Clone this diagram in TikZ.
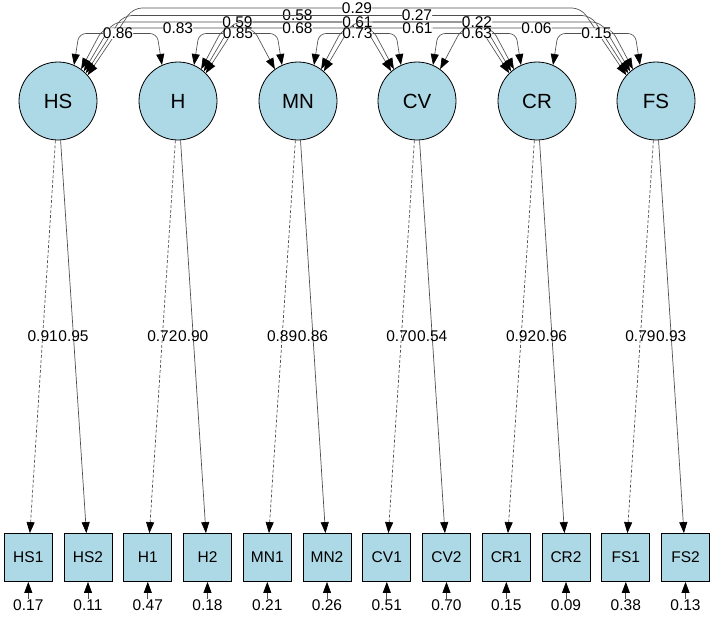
\documentclass[tikz,border=0pt]{standalone}
\usepackage{fontspec}
\setmainfont{Liberation Sans}
\usetikzlibrary{arrows.meta}
\definecolor{lb}{HTML}{ADD8E6}
\definecolor{edgec}{HTML}{505050}
\begin{document}
\begin{tikzpicture}[x=1pt,y=-1pt,
  >={Triangle[length=11pt,width=8pt,color=black]},
  lat/.style={circle,draw=black,line width=0.8pt,fill=lb,minimum size=78pt,inner sep=0pt,font=\fontsize{20.5}{24}\selectfont},
  man/.style={rectangle,draw=black,line width=0.8pt,fill=lb,minimum size=48pt,inner sep=0pt,font=\fontsize{15.5}{18}\selectfont},
  num/.style={font=\fontsize{15.5}{18}\selectfont,inner sep=0pt,text height=10.5pt,text depth=0pt},
  cl/.style={num,fill=white},
  cov/.style={draw=edgec,line width=0.65pt,<->,rounded corners=9pt},
  load/.style={draw=edgec,line width=0.7pt,->},
  fixed/.style={load,dash pattern=on 3pt off 2pt},
  res/.style={draw=edgec,line width=0.7pt,->}
]
\useasboundingbox (0,0) rectangle (714,616);

% latent variables
\node[lat] (HS) at (58,101) {HS};
\node[lat] (H)  at (178,101) {H};
\node[lat] (MN) at (298,101) {MN};
\node[lat] (CV) at (417,101) {CV};
\node[lat] (CR) at (537,101) {CR};
\node[lat] (FS) at (656,101) {FS};

% indicators
\node[man] (HS1) at (28.3,557.5) {HS1};
\node[man] (HS2) at (88,557.5) {HS2};
\node[man] (H1)  at (147.8,557.5) {H1};
\node[man] (H2)  at (207.5,557.5) {H2};
\node[man] (MN1) at (267.3,557.5) {MN1};
\node[man] (MN2) at (327,557.5) {MN2};
\node[man] (CV1) at (386.8,557.5) {CV1};
\node[man] (CV2) at (446.5,557.5) {CV2};
\node[man] (CR1) at (506.3,557.5) {CR1};
\node[man] (CR2) at (566,557.5) {CR2};
\node[man] (FS1) at (625.8,557.5) {FS1};
\node[man] (FS2) at (685.5,557.5) {FS2};

% residual variances
\node[num,inner sep=1pt] (e1)  at (28.3,605) {0.17};
\node[num,inner sep=1pt] (e2)  at (88,605) {0.11};
\node[num,inner sep=1pt] (e3)  at (147.8,605) {0.47};
\node[num,inner sep=1pt] (e4)  at (207.5,605) {0.18};
\node[num,inner sep=1pt] (e5)  at (267.3,605) {0.21};
\node[num,inner sep=1pt] (e6)  at (327,605) {0.26};
\node[num,inner sep=1pt] (e7)  at (386.8,605) {0.51};
\node[num,inner sep=1pt] (e8)  at (446.5,605) {0.70};
\node[num,inner sep=1pt] (e9)  at (506.3,605) {0.15};
\node[num,inner sep=1pt] (e10) at (566,605) {0.09};
\node[num,inner sep=1pt] (e11) at (625.8,605) {0.38};
\node[num,inner sep=1pt] (e12) at (685.5,605) {0.13};
\draw[res] (e1) -- (HS1);
\draw[res] (e2) -- (HS2);
\draw[res] (e3) -- (H1);
\draw[res] (e4) -- (H2);
\draw[res] (e5) -- (MN1);
\draw[res] (e6) -- (MN2);
\draw[res] (e7) -- (CV1);
\draw[res] (e8) -- (CV2);
\draw[res] (e9) -- (CR1);
\draw[res] (e10) -- (CR2);
\draw[res] (e11) -- (FS1);
\draw[res] (e12) -- (FS2);

% loadings
\draw[fixed] (HS) -- node[num]{0.91} (HS1);
\draw[load]  (HS) -- node[num]{0.95} (HS2);
\draw[fixed] (H)  -- node[num]{0.72} (H1);
\draw[load]  (H)  -- node[num]{0.90} (H2);
\draw[fixed] (MN) -- node[num]{0.89} (MN1);
\draw[load]  (MN) -- node[num]{0.86} (MN2);
\draw[fixed] (CV) -- node[num]{0.70} (CV1);
\draw[load]  (CV) -- node[num]{0.54} (CV2);
\draw[fixed] (CR) -- node[num]{0.92} (CR1);
\draw[load]  (CR) -- node[num]{0.96} (CR2);
\draw[fixed] (FS) -- node[num]{0.79} (FS1);
\draw[load]  (FS) -- node[num]{0.93} (FS2);

% covariances, span 5
\draw[cov] (HS.41) -- (133,8) -- node[cl]{0.29} (581,8) -- (FS.139);
% span 4
\draw[cov] (HS.45) -- (123,15.5) -- node[cl]{0.58} (472,15.5) -- (CR.135);
\draw[cov] (H.45)  -- (243,15.5) -- node[cl]{0.27} (591,15.5) -- (FS.135);
% span 3
\draw[cov] (HS.49) -- (113,22) -- node[cl]{0.59} (362,22) -- (CV.131);
\draw[cov] (H.49)  -- (233,22) -- node[cl]{0.61} (482,22) -- (CR.131);
\draw[cov] (MN.49) -- (353,22) -- node[cl]{0.22} (601,22) -- (FS.131);
% span 2
\draw[cov] (HS.54) -- (103,28) -- node[cl]{0.83} (253,28) -- (MN.126);
\draw[cov] (H.54)  -- (223,28) -- node[cl]{0.68} (372,28) -- (CV.126);
\draw[cov] (MN.54) -- (343,28) -- node[cl]{0.61} (492,28) -- (CR.126);
\draw[cov] (CV.54) -- (462,28) -- node[cl]{0.06} (611,28) -- (FS.126);
% span 1
\draw[cov,rounded corners=7pt] (HS.66) -- (79,33.5)  -- node[cl]{0.86} (157,33.5) -- (H.114);
\draw[cov,rounded corners=7pt] (H.66)  -- (199,33.5) -- node[cl]{0.85} (277,33.5) -- (MN.114);
\draw[cov,rounded corners=7pt] (MN.66) -- (319,33.5) -- node[cl]{0.73} (396,33.5) -- (CV.114);
\draw[cov,rounded corners=7pt] (CV.66) -- (438,33.5) -- node[cl]{0.63} (516,33.5) -- (CR.114);
\draw[cov,rounded corners=7pt] (CR.66) -- (558,33.5) -- node[cl]{0.15} (635,33.5) -- (FS.114);
\end{tikzpicture}
\end{document}
